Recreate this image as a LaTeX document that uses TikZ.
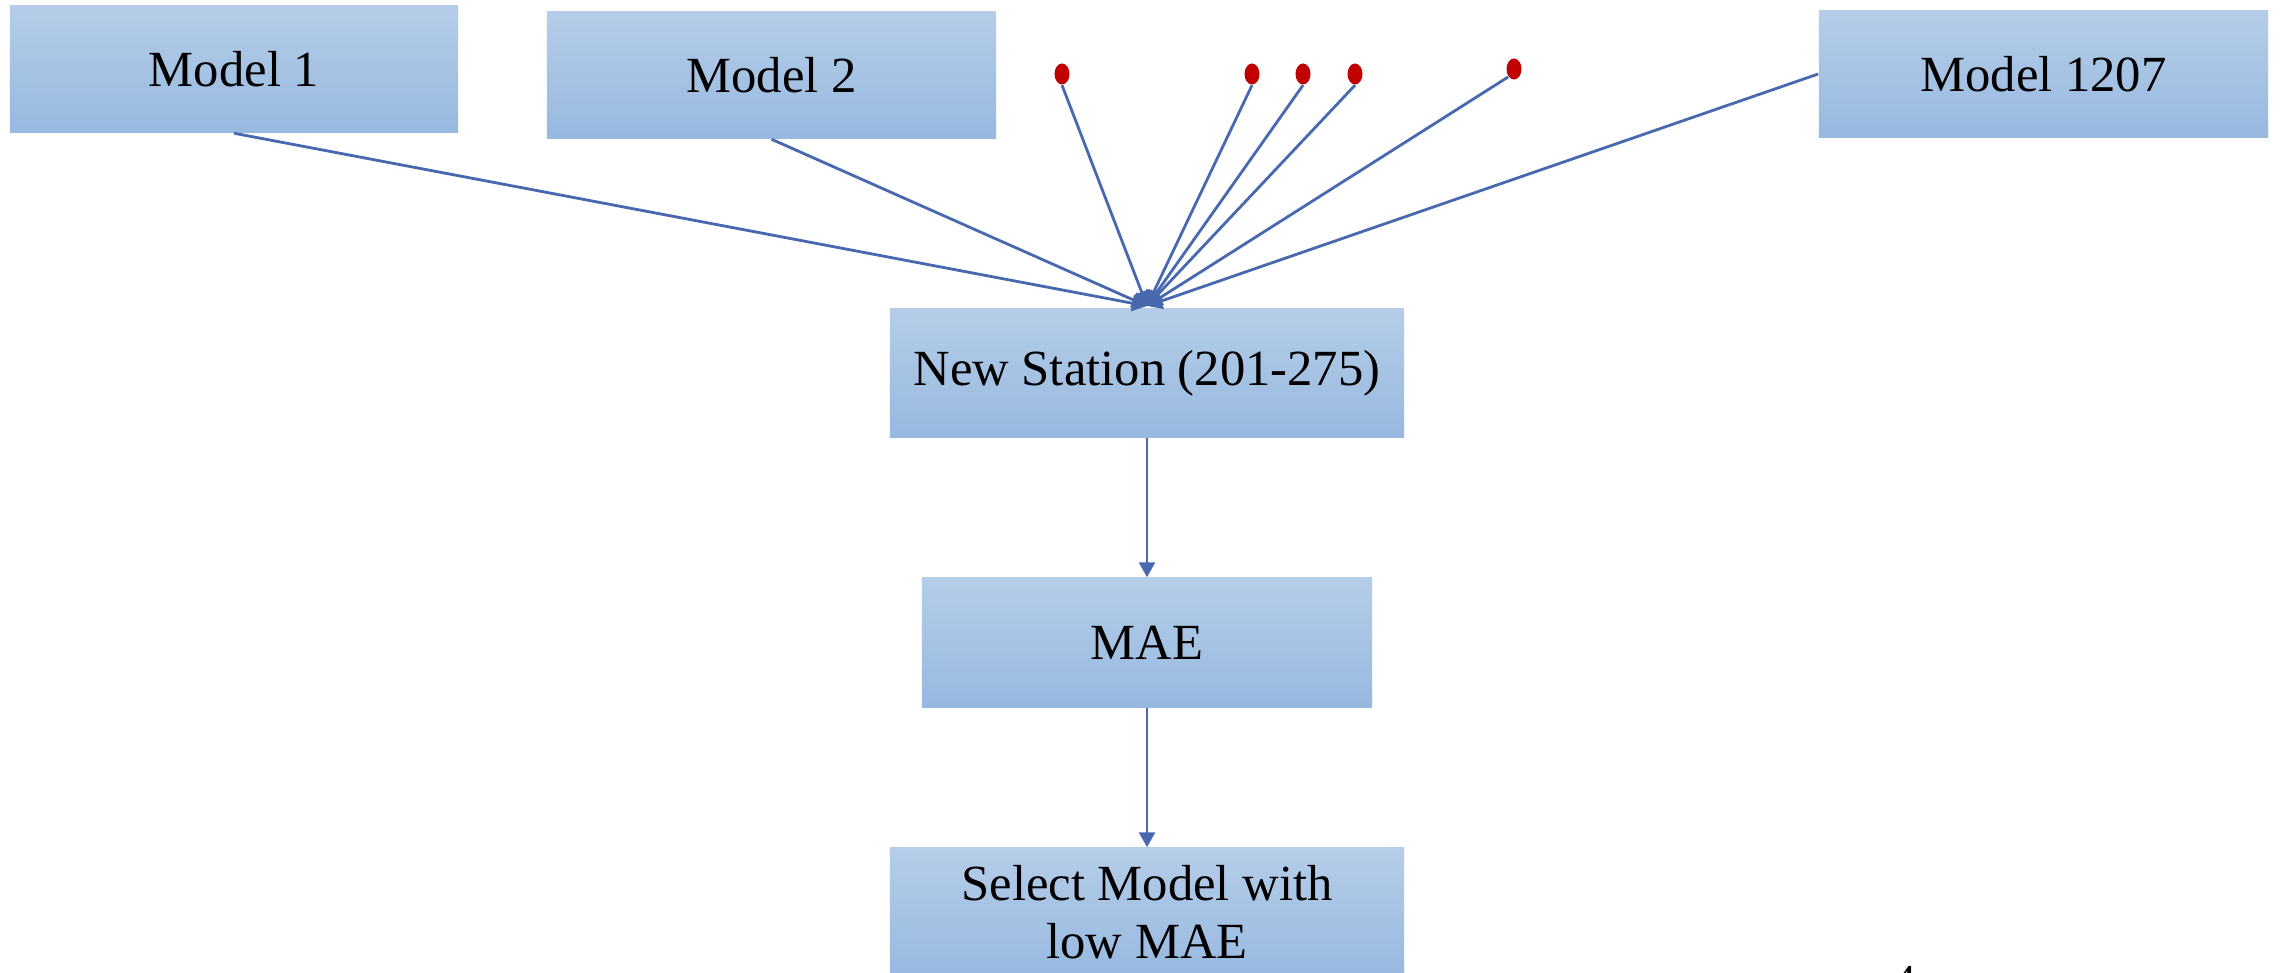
\documentclass[tikz,border=0pt]{standalone}
\usepackage{fontspec}
\setmainfont{Liberation Serif}
\usetikzlibrary{arrows.meta,shapes.geometric}
\definecolor{boxtop}{RGB}{181,205,232}
\definecolor{boxbot}{RGB}{151,185,224}
\definecolor{linecol}{RGB}{72,104,176}
\definecolor{dotred}{RGB}{192,0,0}
\tikzset{
  box/.style={draw=none, top color=boxtop, bottom color=boxbot, minimum height=1.27cm,
    inner sep=0pt, align=center, font=\fontsize{14.4}{16.5}\selectfont},
  conn/.style={draw=linecol, line width=0.8pt, -{Triangle[length=0.15cm,width=0.16cm]}},
  reddot/.style={ellipse, fill=dotred, draw=none, minimum width=0.15cm, minimum height=0.21cm, inner sep=0pt},
}
\begin{document}
\begin{tikzpicture}[x=0.01cm,y=-0.01cm]
\useasboundingbox (0,0) rectangle (2282,973);
\begin{scope}
\clip (0,0) rectangle (2282,973);
\node[box, minimum width=4.48cm] (m1) at (234,69) {Model 1};
\node[box, minimum width=4.49cm] (m2) at (771.5,75) {Model 2};
\node[box, minimum width=4.49cm] (m1207) at (2043.5,74) {Model 1207};
\node[box, minimum width=5.14cm, minimum height=1.28cm] (ns) at (1147,373) {New Station (201-275)};
\node[box, minimum width=4.50cm, minimum height=1.29cm] (mae) at (1147,642.5) {MAE};
\node[box, minimum width=5.14cm, minimum height=1.28cm] (sel) at (1147,912) {Select Model with\\low MAE};
\node[font=\fontsize{13}{15}\selectfont, anchor=north, inner sep=0pt] (pg) at (1905,966) {4};
\end{scope}
\node[reddot] (d1) at (1062,74) {};
\node[reddot] (d2) at (1252,74) {};
\node[reddot] (d3) at (1303,74) {};
\node[reddot] (d4) at (1355,74) {};
\node[reddot] (d5) at (1514,69) {};
\coordinate (hub) at (1147,306);
\draw[conn] (m1.south) -- (hub);
\draw[conn] (m2.south) -- (hub);
\draw[conn] (d1.south) -- (hub);
\draw[conn] (d2.south) -- (hub);
\draw[conn] (d3.south) -- (hub);
\draw[conn] (d4.south) -- (hub);
\draw[conn] (d5.south west) -- (hub);
\draw[conn] (m1207.west) -- (hub);
\draw[conn] (ns.south) -- (mae.north);
\draw[conn] (mae.south) -- (sel.north);
\end{tikzpicture}
\end{document}
